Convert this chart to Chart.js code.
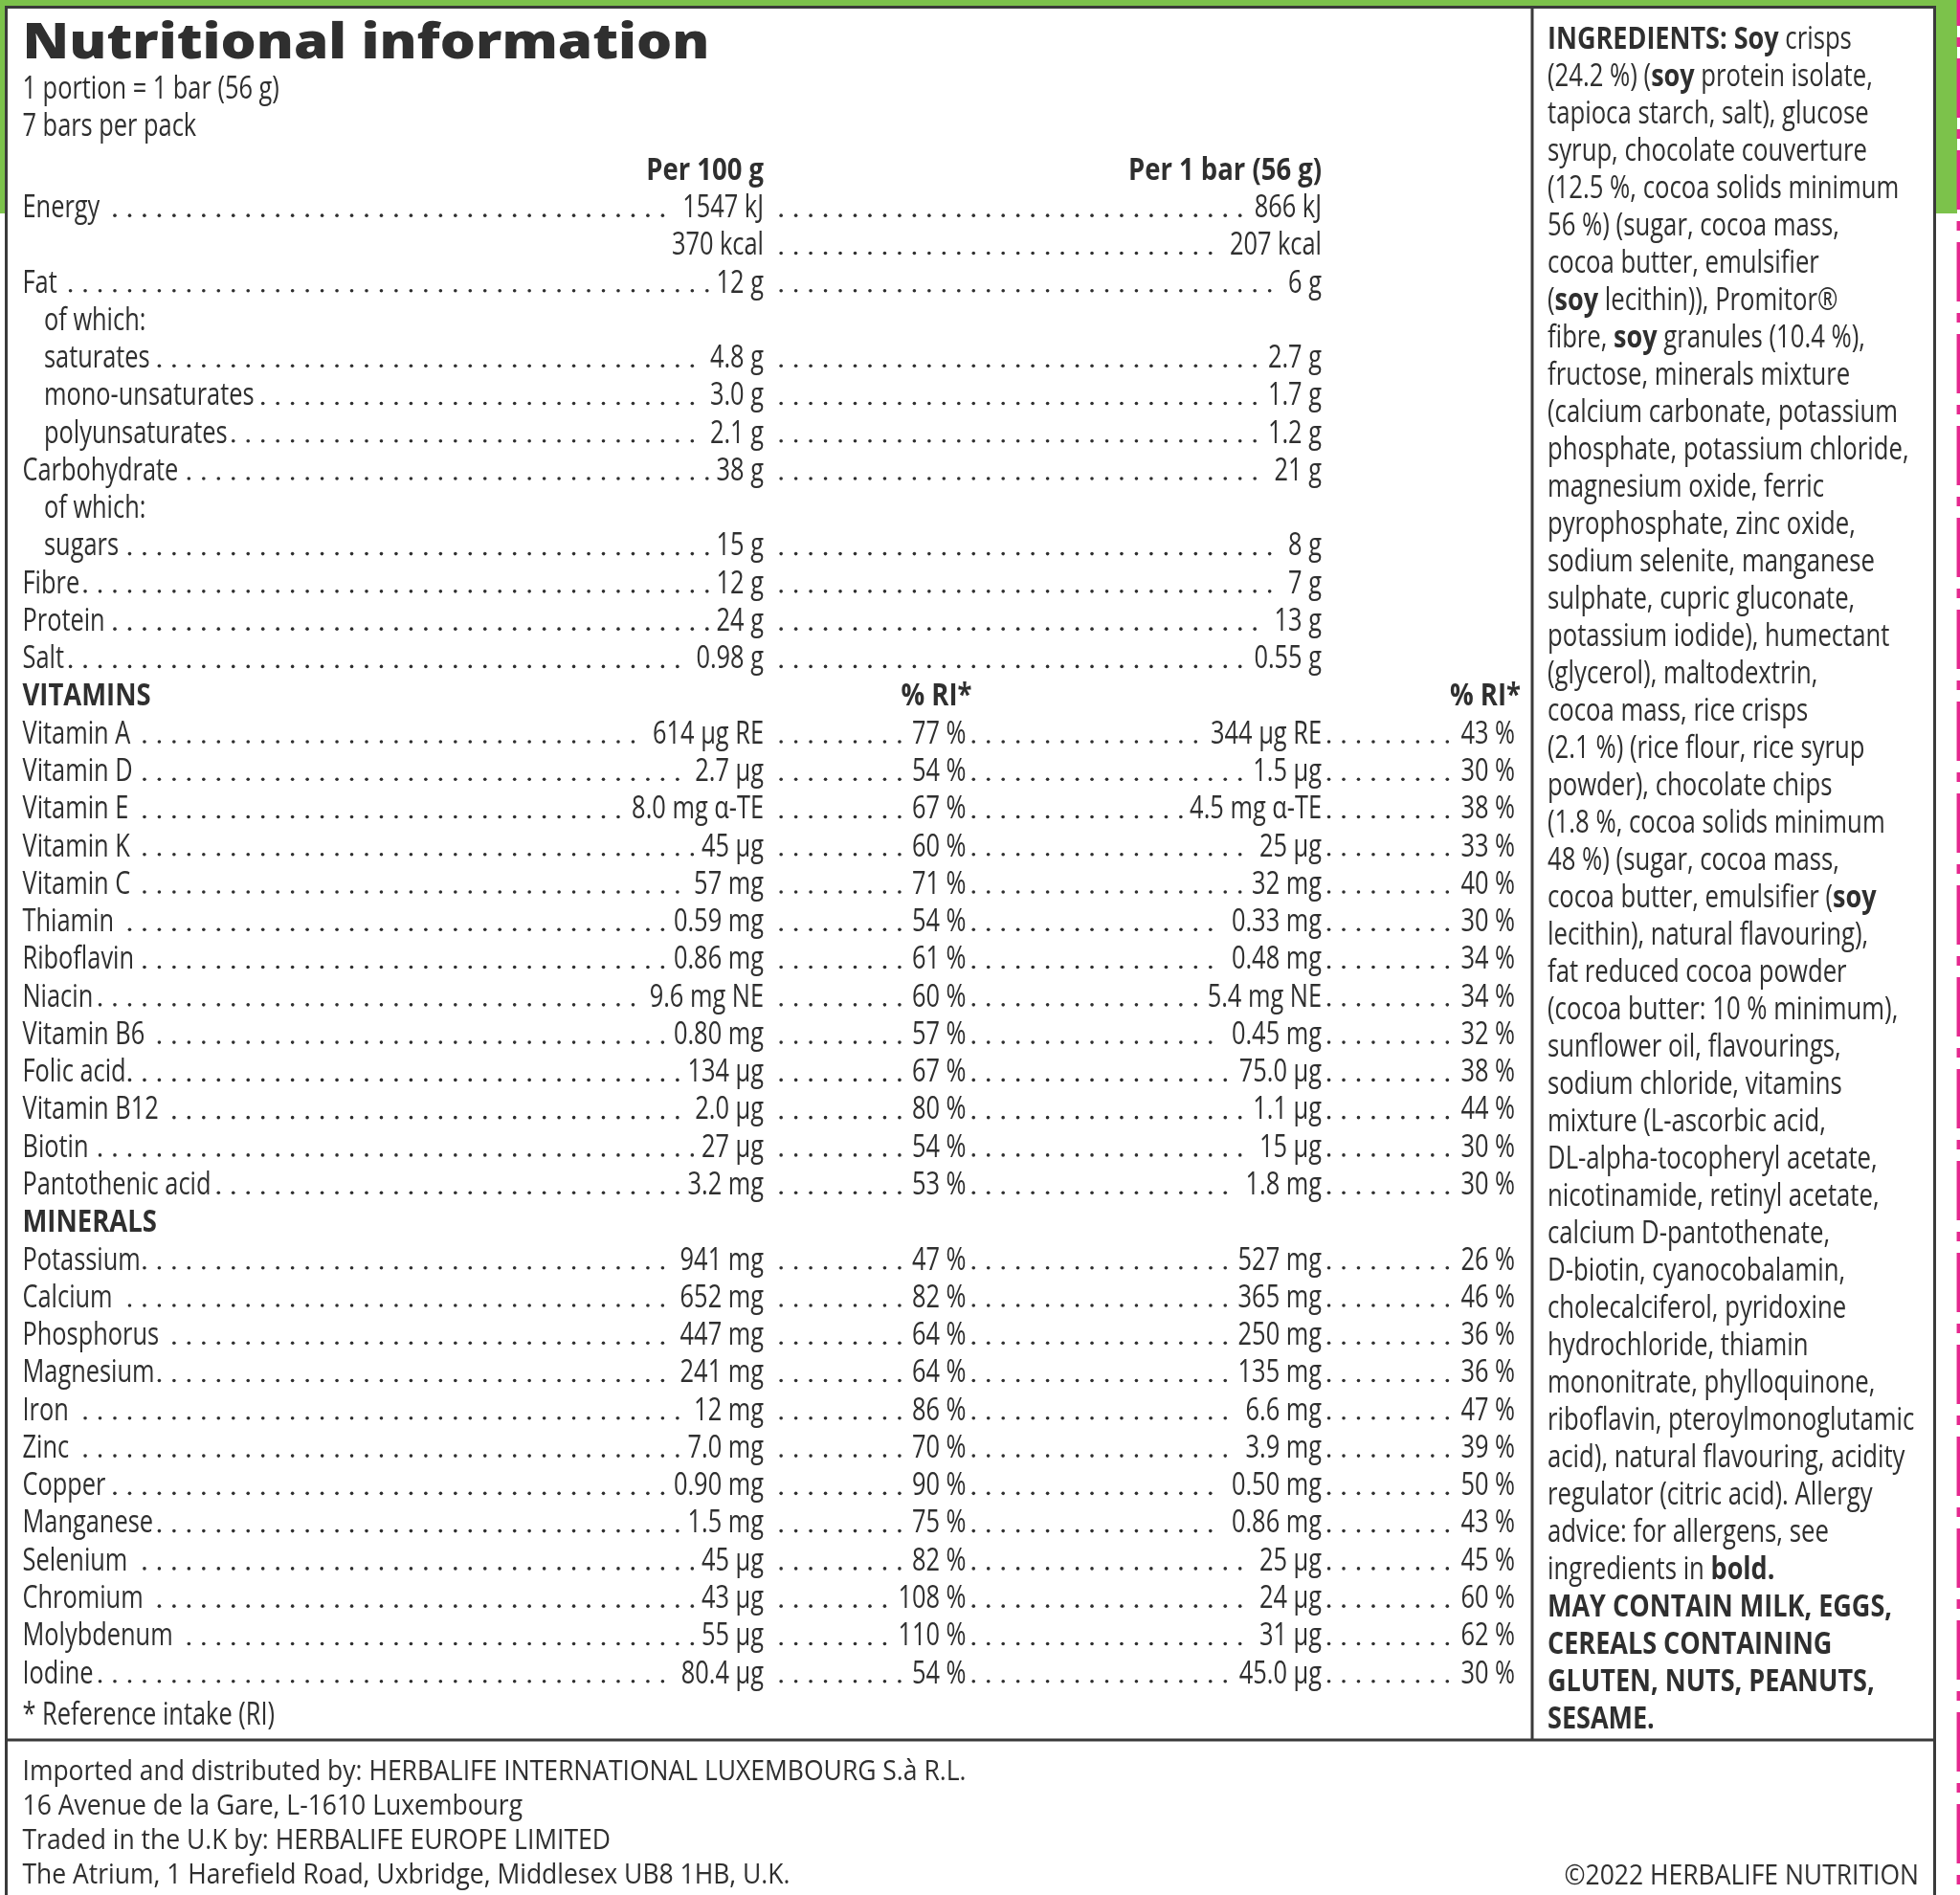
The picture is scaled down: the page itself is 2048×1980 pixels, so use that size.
<!DOCTYPE html>
<html>
<head>
<meta charset="utf-8">
<title>Nutritional information</title>
<script src="https://cdn.jsdelivr.net/npm/chart.js@4.4.1/dist/chart.umd.min.js"></script>
<style>
  html, body { margin: 0; padding: 0; background: #fff; }
  canvas { display: block; }
</style>
</head>
<body>
<canvas id="label" width="2048" height="1980"></canvas>
<script>
// ---- table data ----
const macroNames  = ['Energy', '', 'Fat', 'of which:', 'saturates', 'mono-unsaturates', 'polyunsaturates', 'Carbohydrate', 'of which:', 'sugars', 'Fibre', 'Protein', 'Salt'];
const macroLevel  = [0, 0, 0, 1, 1, 1, 1, 0, 1, 1, 0, 0, 0];
const macroPer100 = ['1547 kJ', '370 kcal', '12 g', '', '4.8 g', '3.0 g', '2.1 g', '38 g', '', '15 g', '12 g', '24 g', '0.98 g'];
const macroPerBar = ['866 kJ', '207 kcal', '6 g', '', '2.7 g', '1.7 g', '1.2 g', '21 g', '', '8 g', '7 g', '13 g', '0.55 g'];

const vitaminNames  = ['Vitamin A', 'Vitamin D', 'Vitamin E', 'Vitamin K', 'Vitamin C', 'Thiamin', 'Riboflavin', 'Niacin', 'Vitamin B6', 'Folic acid', 'Vitamin B12', 'Biotin', 'Pantothenic acid'];
const vitaminPer100 = ['614 µg RE', '2.7 µg', '8.0 mg α-TE', '45 µg', '57 mg', '0.59 mg', '0.86 mg', '9.6 mg NE', '0.80 mg', '134 µg', '2.0 µg', '27 µg', '3.2 mg'];
const vitaminRI100  = [77, 54, 67, 60, 71, 54, 61, 60, 57, 67, 80, 54, 53];
const vitaminPerBar = ['344 µg RE', '1.5 µg', '4.5 mg α-TE', '25 µg', '32 mg', '0.33 mg', '0.48 mg', '5.4 mg NE', '0.45 mg', '75.0 µg', '1.1 µg', '15 µg', '1.8 mg'];
const vitaminRIBar  = [43, 30, 38, 33, 40, 30, 34, 34, 32, 38, 44, 30, 30];

const mineralNames  = ['Potassium', 'Calcium', 'Phosphorus', 'Magnesium', 'Iron', 'Zinc', 'Copper', 'Manganese', 'Selenium', 'Chromium', 'Molybdenum', 'Iodine'];
const mineralPer100 = ['941 mg', '652 mg', '447 mg', '241 mg', '12 mg', '7.0 mg', '0.90 mg', '1.5 mg', '45 µg', '43 µg', '55 µg', '80.4 µg'];
const mineralRI100  = [47, 82, 64, 64, 86, 70, 90, 75, 82, 108, 110, 54];
const mineralPerBar = ['527 mg', '365 mg', '250 mg', '135 mg', '6.6 mg', '3.9 mg', '0.50 mg', '0.86 mg', '25 µg', '24 µg', '31 µg', '45.0 µg'];
const mineralRIBar  = [26, 46, 36, 36, 47, 39, 50, 43, 45, 60, 62, 30];

const columnHeads = ['Per 100 g', 'Per 1 bar (56 g)'];
const riHead = '% RI*';

const ingredientLines = [
  '**INGREDIENTS: Soy** crisps',
  '(24.2 %) (**soy** protein isolate,',
  'tapioca starch, salt), glucose',
  'syrup, chocolate couverture',
  '(12.5 %, cocoa solids minimum',
  '56 %) (sugar, cocoa mass,',
  'cocoa butter, emulsifier',
  '(**soy** lecithin)), Promitor®',
  'fibre, **soy** granules (10.4 %),',
  'fructose, minerals mixture',
  '(calcium carbonate, potassium',
  'phosphate, potassium chloride,',
  'magnesium oxide, ferric',
  'pyrophosphate, zinc oxide,',
  'sodium selenite, manganese',
  'sulphate, cupric gluconate,',
  'potassium iodide), humectant',
  '(glycerol), maltodextrin,',
  'cocoa mass, rice crisps',
  '(2.1 %) (rice flour, rice syrup',
  'powder), chocolate chips',
  '(1.8 %, cocoa solids minimum',
  '48 %) (sugar, cocoa mass,',
  'cocoa butter, emulsifier (**soy**',
  'lecithin), natural flavouring),',
  'fat reduced cocoa powder',
  '(cocoa butter: 10 % minimum),',
  'sunflower oil, flavourings,',
  'sodium chloride, vitamins',
  'mixture (L-ascorbic acid,',
  'DL-alpha-tocopheryl acetate,',
  'nicotinamide, retinyl acetate,',
  'calcium D-pantothenate,',
  'D-biotin, cyanocobalamin,',
  'cholecalciferol, pyridoxine',
  'hydrochloride, thiamin',
  'mononitrate, phylloquinone,',
  'riboflavin, pteroylmonoglutamic',
  'acid), natural flavouring, acidity',
  'regulator (citric acid). Allergy',
  'advice: for allergens, see',
  'ingredients in **bold.**',
  '**MAY CONTAIN MILK, EGGS,**',
  '**CEREALS CONTAINING**',
  '**GLUTEN, NUTS, PEANUTS,**',
  '**SESAME.**'
];

const footerLines = [
  'Imported and distributed by: HERBALIFE INTERNATIONAL LUXEMBOURG S.à R.L.',
  '16 Avenue de la Gare, L-1610 Luxembourg',
  'Traded in the U.K by: HERBALIFE EUROPE LIMITED',
  'The Atrium, 1 Harefield Road, Uxbridge, Middlesex UB8 1HB, U.K.'
];

// ---- build rows for the y scale ----
const pct = v => v + ' %';
const rows = [];
rows.push({ kind: 'head', level: 0, cells: ['', columnHeads[0], '', columnHeads[1], ''] });
macroNames.forEach((n, i) => rows.push({ kind: 'item', level: macroLevel[i], cells: [n, macroPer100[i], '', macroPerBar[i], ''] }));
rows.push({ kind: 'section', level: 0, cells: ['VITAMINS', '', riHead, '', riHead] });
vitaminNames.forEach((n, i) => rows.push({ kind: 'item', level: 0, cells: [n, vitaminPer100[i], pct(vitaminRI100[i]), vitaminPerBar[i], pct(vitaminRIBar[i])] }));
rows.push({ kind: 'section', level: 0, cells: ['MINERALS', '', '', '', ''] });
mineralNames.forEach((n, i) => rows.push({ kind: 'item', level: 0, cells: [n, mineralPer100[i], pct(mineralRI100[i]), mineralPerBar[i], pct(mineralRIBar[i])] }));

// ---- look ----
const INK = '#2f2f2f';
const GREEN = '#7cc24b';
const MAGENTA = '#e6288f';
const FAMILY = '"Open Sans", "Noto Sans", "DejaVu Sans", sans-serif';
const F_LIGHT = '400 32px ' + FAMILY;
const F_BOLD = '700 32px ' + FAMILY;
const F_TITLE = '800 51px ' + FAMILY;
const F_FOOT = '400 30px ' + FAMILY;

// column anchors in table units (label left, then right edges)
const TABLE_W = 1560;
const COL_X = [0, 774.5, 986, 1357.5, 1559.5];
const INDENT = 22.5;
const DOT_STEP = 15.47;

function drawText(ctx, str, x, y, font, sx, align) {
  ctx.save();
  ctx.font = font;
  ctx.textAlign = align || 'left';
  ctx.textBaseline = 'alphabetic';
  ctx.translate(x, y);
  ctx.scale(sx, 1);
  ctx.fillText(str, 0, 0);
  ctx.restore();
}

function textWidth(ctx, str, font, sx) {
  ctx.save();
  ctx.font = font;
  const w = ctx.measureText(str).width * sx;
  ctx.restore();
  return w;
}

function leader(ctx, from, to, baseline) {
  const origin = 120;
  let k = Math.ceil((from + 3 - origin) / DOT_STEP);
  for (let x = origin + k * DOT_STEP; x <= to - 7; x += DOT_STEP) {
    ctx.beginPath();
    ctx.arc(x, baseline - 1.8, 1.8, 0, Math.PI * 2);
    ctx.fill();
  }
}

const labelPlugin = {
  id: 'labelPlugin',
  beforeDraw(chart) {
    const ctx = chart.ctx;
    const W = chart.width, H = chart.height;
    ctx.save();
    ctx.fillStyle = '#fff';
    ctx.fillRect(0, 0, W, H);
    ctx.fillStyle = GREEN;
    ctx.fillRect(0, 0, 2045, 223);
    ctx.fillStyle = '#fff';
    ctx.fillRect(6.5, 7.5, 2015, H);

    // magenta dash-dot cut line
    ctx.strokeStyle = MAGENTA;
    ctx.lineWidth = 3.5;
    ctx.setLineDash([62, 12, 10, 12]);
    ctx.lineDashOffset = 35;
    ctx.beginPath();
    ctx.moveTo(2046.3, 0);
    ctx.lineTo(2046.3, H);
    ctx.stroke();
    ctx.setLineDash([]);

    // frame
    ctx.strokeStyle = '#3a3a3a';
    ctx.lineWidth = 3;
    ctx.beginPath();
    ctx.moveTo(6.5, H);
    ctx.lineTo(6.5, 7.5);
    ctx.lineTo(2021.5, 7.5);
    ctx.lineTo(2021.5, H);
    ctx.moveTo(1601, 7.5);
    ctx.lineTo(1601, 1818);
    ctx.moveTo(6.5, 1818);
    ctx.lineTo(2021.5, 1818);
    ctx.stroke();
    ctx.restore();
  },
  afterDraw(chart) {
    const ctx = chart.ctx;
    const xs = chart.scales.x, ys = chart.scales.y;
    ctx.save();
    ctx.fillStyle = INK;

    const sxL = 197 / textWidth(ctx, 'Pantothenic acid', F_LIGHT, 1);
    const sxB = 202 / textWidth(ctx, 'Per 1 bar (56 g)', F_BOLD, 1);
    const sxI = (375 / textWidth(ctx, '(12.5 %, cocoa solids minimum', F_LIGHT, 1) +
                 380 / textWidth(ctx, 'riboflavin, pteroylmonoglutamic', F_LIGHT, 1) +
                 373 / textWidth(ctx, 'phosphate, potassium chloride,', F_LIGHT, 1)) / 3;
    const sxIB = 360 / textWidth(ctx, 'MAY CONTAIN MILK, EGGS,', F_BOLD, 1);
    const sxT = 718 / textWidth(ctx, 'Nutritional information', F_TITLE, 1);
    const sxF = 986 / textWidth(ctx, footerLines[0], F_FOOT, 1);
    const CAP = 11.4;

    // heading
    const left = xs.getPixelForValue(0);
    drawText(ctx, 'Nutritional information', left, 61, F_TITLE, sxT);
    drawText(ctx, '1 portion = 1 bar (56 g)', left, 91.5 + CAP, F_LIGHT, sxL);
    drawText(ctx, '7 bars per pack', left, 130.6 + CAP, F_LIGHT, sxL);

    // table cells
    rows.forEach((row, r) => {
      const base = ys.getPixelForValue(r) + CAP;
      if (row.kind === 'head') {
        [1, 3].forEach(c => drawText(ctx, row.cells[c], xs.getPixelForValue(COL_X[c]), base, F_BOLD, sxB, 'right'));
        return;
      }
      if (row.kind === 'section') {
        drawText(ctx, row.cells[0], left, base, F_BOLD, sxB);
        [2, 4].forEach(c => {
          if (row.cells[c]) drawText(ctx, row.cells[c], xs.getPixelForValue(COL_X[c]) + 6, base, F_BOLD, sxB, 'right');
        });
        return;
      }
      const spans = [];
      row.cells.forEach((txt, c) => {
        if (!txt) return;
        const w = textWidth(ctx, txt, F_LIGHT, sxL);
        if (c === 0) {
          const x0 = xs.getPixelForValue(row.level ? INDENT : 0);
          drawText(ctx, txt, x0, base, F_LIGHT, sxL);
          spans.push([x0, x0 + w]);
        } else {
          const x1 = xs.getPixelForValue(COL_X[c]);
          drawText(ctx, txt, x1, base, F_LIGHT, sxL, 'right');
          spans.push([x1 - w, x1]);
        }
      });
      if (spans.length > 1 && row.cells[1]) {
        for (let i = 0; i + 1 < spans.length; i++) leader(ctx, spans[i][1], spans[i + 1][0], base);
      }
    });

    // footnote
    const lastY = ys.getPixelForValue(rows.length - 1);
    drawText(ctx, '* Reference intake (RI)', left, lastY + 43 + CAP, F_LIGHT, sxL);

    // ingredients column
    const ix = 1617;
    ingredientLines.forEach((line, i) => {
      const base = 39.2 + i * 39.0 + CAP;
      let cx = ix;
      line.split('**').forEach((part, j) => {
        if (!part) return;
        const bold = j % 2 === 1;
        const f = bold ? F_BOLD : F_LIGHT, s = bold ? sxIB : sxI;
        drawText(ctx, part, cx, base, f, s);
        cx += textWidth(ctx, part, f, s);
      });
    });

    // footer
    footerLines.forEach((line, i) => drawText(ctx, line, left, 1849 + i * 36.3 + 10.5, F_FOOT, sxF));
    drawText(ctx, '©2022 HERBALIFE NUTRITION', 2005, 1958 + 10.5, F_FOOT, sxF, 'right');
    ctx.restore();
  }
};

const canvas = document.getElementById('label');
const H = canvas.height, W = canvas.width;
const pitch = 39.27;
const firstRowY = 176.3;
const tableLeft = 23.5;

new Chart(canvas.getContext('2d'), {
  type: 'scatter',
  data: { datasets: [] },
  options: {
    responsive: false,
    animation: false,
    devicePixelRatio: 1,
    layout: {
      padding: {
        left: tableLeft,
        right: W - tableLeft - TABLE_W,
        top: firstRowY - pitch / 2,
        bottom: H - (firstRowY - pitch / 2 + pitch * rows.length)
      }
    },
    scales: {
      x: { type: 'linear', min: 0, max: TABLE_W, display: false },
      y: { type: 'linear', min: -0.5, max: rows.length - 0.5, reverse: true, display: false }
    },
    plugins: { legend: { display: false }, tooltip: { enabled: false } }
  },
  plugins: [labelPlugin]
});
</script>
</body>
</html>
